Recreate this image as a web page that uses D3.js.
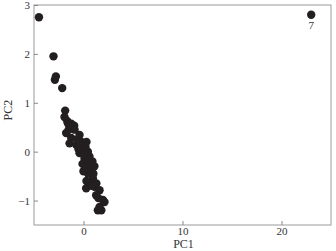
<!DOCTYPE html>
<html>
<head>
<meta charset="utf-8">
<script src="https://cdn.jsdelivr.net/npm/d3@7"></script>
<style>
body { margin: 0; background: #fff; }
svg { display: block; font-family: "Liberation Serif", "DejaVu Serif", serif; }
</style>
</head>
<body>
<svg id="chart" width="336" height="251"></svg>
<script>
// scores des échantillons (PC1, PC2)
var pc1 = [-4.5, -3.03, -2.79, -2.89, -2.15, -1.85, -1.92, -1.65, -1.24, -0.94,
	-1.58, -1.07, -1.75, -1.24, -0.40, -1.41, -0.74, -0.06, 0.44, -0.40,
	0.10, 0.61, 0.27, 0.78, 0.44, 0.95, 0.61, 0.27, 1.11, 1.62,
	1.28, 1.96, 1.62, 1.45, 2.12,
	-0.2, 0.2, -0.6, 0.6, 0.0, -0.1, 0.5, 0.9, 1.0, 0.3,
	0.8, 1.3, -0.9, -1.5, -0.5, 0.3, 1.1, 0.0, 1.5, 1.8, 23.0];
var pc2 = [2.75, 1.95, 1.54, 1.47, 1.30, 0.84, 0.71, 0.63, 0.57, 0.53,
	0.58, 0.51, 0.38, 0.28, 0.34, 0.17, 0.14, 0.08, 0.0, -0.03,
	-0.14, -0.21, -0.31, -0.38, -0.44, -0.55, -0.62, -0.75, -0.72, -0.79,
	-0.89, -0.99, -1.13, -1.20, -1.03,
	0.2, 0.1, 0.25, -0.1, -0.05, -0.25, -0.3, -0.2, -0.45, -0.6,
	-0.7, -0.65, 0.45, 0.45, 0.05, 0.2, -0.3, -0.4, -0.95, -1.2, 2.8];
var labels = {55: "7"};
var xTicks = [0, 10, 20],
yTicks = [-1, 0, 1, 2, 3];

var margin = {top: 5, right: 5, bottom: 26, left: 34},
width = 336 - margin.left - margin.right,
height = 251 - margin.top - margin.bottom;

var svg = d3.select("#chart");
var g = svg.append("g").attr("transform", "translate(" + margin.left + "," + margin.top + ")");

var x = d3.scaleLinear().domain([-5, 25]).range([0, width]);
var y = d3.scaleLinear().domain([-1.5, 3]).range([height, 0]);

// cadre
g.append("rect")
.attr("width", width)
.attr("height", height)
.attr("fill", "none")
.attr("stroke", "#9a9a9a")
.attr("stroke-width", 1);

// axes (ticks vers l'intérieur)
var xAxis = g.append("g")
.attr("transform", "translate(0," + height + ")")
.call(d3.axisBottom(x).tickValues(xTicks).tickSizeInner(-4).tickSizeOuter(0).tickPadding(2));
var yAxis = g.append("g")
.call(d3.axisLeft(y).tickValues(yTicks).tickSizeInner(-4).tickSizeOuter(0).tickPadding(4)
	.tickFormat(function(d) { return d < 0 ? "\u2212" + Math.abs(d) : d; }));

[xAxis, yAxis].forEach(function(a) {
	a.select(".domain").remove();
	a.selectAll("line").attr("stroke", "#8a8a8a");
	a.selectAll("text").attr("fill", "#333").style("font-size", "11px").style("font-family", "Liberation Serif, serif");
});

// points
var pts = d3.range(pc1.length);
g.selectAll("circle")
.data(pts)
.enter().append("circle")
.attr("cx", function(i) { return x(pc1[i]); })
.attr("cy", function(i) { return y(pc2[i]); })
.attr("r", 4.2)
.attr("fill", "#231f20");

g.selectAll(".lbl")
.data(Object.keys(labels))
.enter().append("text")
.attr("class", "lbl")
.attr("x", function(i) { return x(pc1[i]); })
.attr("y", function(i) { return y(pc2[i]) + 14; })
.attr("text-anchor", "middle")
.attr("fill", "#333")
.style("font-size", "11px")
.text(function(i) { return labels[i]; });

// titres d'axes
svg.append("text")
.attr("x", margin.left + x(10) + 1)
.attr("y", 248)
.attr("text-anchor", "middle")
.attr("fill", "#333")
.style("font-size", "12px")
.text("PC1");

svg.append("text")
.attr("transform", "translate(12," + (margin.top + y(0.85)) + ") rotate(-90)")
.attr("text-anchor", "middle")
.attr("fill", "#333")
.style("font-size", "12px")
.text("PC2");
</script>
</body>
</html>
